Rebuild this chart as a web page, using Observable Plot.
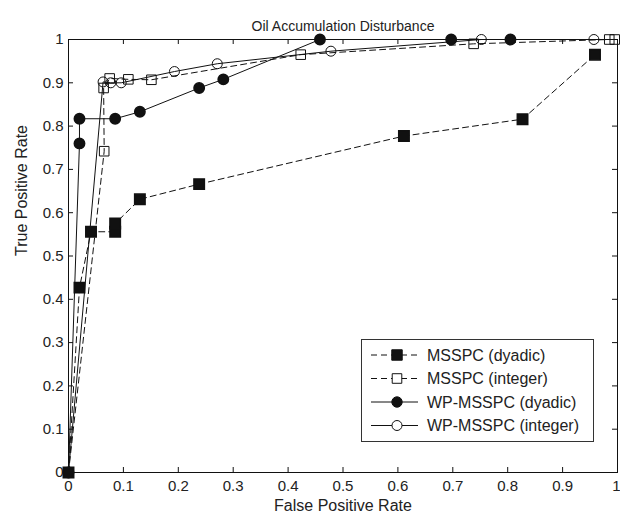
<!DOCTYPE html>
<html>
<head>
<meta charset="utf-8">
<script src="https://cdn.jsdelivr.net/npm/d3@7"></script>
<script src="https://cdn.jsdelivr.net/npm/@observablehq/plot@0.6"></script>
<style>
  html, body { margin: 0; padding: 0; background: white; }
  #chart { position: relative; width: 620px; height: 515px; font-family: "Liberation Sans", Arial, sans-serif; }
  #legend { position: absolute; left: 0; top: 0; pointer-events: none; }
</style>
</head>
<body>
<div id="chart"></div>
<script>
// ---- data ----
const title = "Oil Accumulation Disturbance";
const xLabel = "False Positive Rate";
const yLabel = "True Positive Rate";
const xTicks = [0, 0.1, 0.2, 0.3, 0.4, 0.5, 0.6, 0.7, 0.8, 0.9, 1];
const yTicks = [0, 0.1, 0.2, 0.3, 0.4, 0.5, 0.6, 0.7, 0.8, 0.9, 1];
const seriesNames = ["MSSPC (dyadic)", "MSSPC (integer)", "WP-MSSPC (dyadic)", "WP-MSSPC (integer)"];

const msspcDyadicX = [0, 0.02, 0.041, 0.085, 0.085, 0.13, 0.238, 0.611, 0.827, 0.959];
const msspcDyadicY = [0, 0.427, 0.556, 0.556, 0.575, 0.631, 0.666, 0.777, 0.816, 0.965];

const msspcIntegerX = [0, 0.065, 0.064, 0.075, 0.109, 0.151, 0.423, 0.738, 0.985, 0.995];
const msspcIntegerY = [0, 0.742, 0.888, 0.91, 0.908, 0.907, 0.965, 0.99, 1, 1];

const wpDyadicX = [0, 0.02, 0.02, 0.085, 0.13, 0.238, 0.282, 0.458, 0.697, 0.805];
const wpDyadicY = [0, 0.76, 0.817, 0.817, 0.833, 0.888, 0.908, 1, 1, 1];

const wpIntegerX = [0, 0.063, 0.077, 0.096, 0.193, 0.271, 0.478, 0.752, 0.957];
const wpIntegerY = [0, 0.902, 0.9, 0.9, 0.926, 0.944, 0.973, 1, 1];

// ---- build tables ----
const zip = (xs, ys) => xs.map((x, i) => ({x, y: ys[i]}));
const msspcDyadic = zip(msspcDyadicX, msspcDyadicY);
const msspcInteger = zip(msspcIntegerX, msspcIntegerY);
const wpDyadic = zip(wpDyadicX, wpDyadicY);
const wpInteger = zip(wpIntegerX, wpIntegerY);

const W = 620, H = 515;
const mL = 68, mR = 3, mT = 39, mB = 43;
const plotW = W - mL - mR, plotH = H - mT - mB;
const ink = "#111";
const dash = "6,4";
const tickLen = 5;
const fmt = d => String(+d.toFixed(1));
const xTicksInner = xTicks.slice(0, -1);
const xTickLast = xTicks.slice(-1);

const chart = Plot.plot({
  width: W, height: H,
  marginLeft: mL, marginRight: mR, marginTop: mT, marginBottom: mB,
  style: {fontFamily: '"Liberation Sans", Arial, sans-serif', color: "#222", background: "white"},
  x: {domain: [0, 1]},
  y: {domain: [0, 1]},
  marks: [
    Plot.axisX({ticks: xTicksInner, tickSize: 0, tickPadding: 8, fontSize: 15, tickFormat: fmt, label: null}),
    Plot.axisX({ticks: xTickLast, tickSize: 0, tickPadding: 8, fontSize: 15, tickFormat: fmt, label: null, textAnchor: "end", dx: 3}),
    Plot.axisY({ticks: yTicks, tickSize: 0, tickPadding: 5, fontSize: 15, tickFormat: fmt, label: null}),
    // inward tick marks on all four sides
    Plot.tickX(xTicks, {x: d => d, stroke: ink, insetTop: plotH - tickLen}),
    Plot.tickX(xTicks, {x: d => d, stroke: ink, insetBottom: plotH - tickLen}),
    Plot.tickY(yTicks, {y: d => d, stroke: ink, insetRight: plotW - tickLen}),
    Plot.tickY(yTicks, {y: d => d, stroke: ink, insetLeft: plotW - tickLen}),
    Plot.frame({stroke: ink, strokeWidth: 1}),
    // series
    Plot.line(wpInteger, {x: "x", y: "y", stroke: ink, strokeWidth: 1}),
    Plot.dot(wpInteger, {x: "x", y: "y", symbol: "circle", r: 5, fill: "none", stroke: ink, strokeWidth: 1}),
    Plot.line(wpDyadic, {x: "x", y: "y", stroke: ink, strokeWidth: 1}),
    Plot.dot(wpDyadic, {x: "x", y: "y", symbol: "circle", r: 5.2, fill: ink, stroke: ink}),
    Plot.line(msspcInteger, {x: "x", y: "y", stroke: ink, strokeWidth: 1, strokeDasharray: dash}),
    Plot.dot(msspcInteger, {x: "x", y: "y", symbol: "square", r: 5.4, fill: "none", stroke: ink, strokeWidth: 1}),
    Plot.line(msspcDyadic, {x: "x", y: "y", stroke: ink, strokeWidth: 1, strokeDasharray: dash}),
    Plot.dot(msspcDyadic, {x: "x", y: "y", symbol: "square", r: 5.9, fill: ink, stroke: ink}),
    // title and axis labels
    Plot.text([title], {text: d => d, frameAnchor: "top", dy: -18, fontSize: 14, fill: "#222"}),
    Plot.text([xLabel], {text: d => d, frameAnchor: "bottom", dy: 38, fontSize: 16, fill: "#222"}),
    Plot.text([yLabel], {text: d => d, frameAnchor: "left", dx: -47, rotate: -90, fontSize: 16, fill: "#222"})
  ]
});
document.getElementById("chart").appendChild(chart);

// ---- legend overlay inside the plot area ----
const lg = d3.select("#chart").append("svg")
  .attr("id", "legend").attr("width", W).attr("height", H);
const box = {x: 361, y: 339, w: 232, h: 102};
const g = lg.append("g").attr("transform", `translate(${box.x},${box.y})`);
g.append("rect").attr("x", 0.5).attr("y", 0.5).attr("width", box.w).attr("height", box.h)
  .attr("fill", "white").attr("stroke", "#333").attr("stroke-width", 1);
const styles = [
  {dash: dash, sym: d3.symbolSquare, r: 5.9, fill: ink},
  {dash: dash, sym: d3.symbolSquare, r: 5.4, fill: "white"},
  {dash: null, sym: d3.symbolCircle, r: 5.2, fill: ink},
  {dash: null, sym: d3.symbolCircle, r: 5, fill: "white"}
];
seriesNames.forEach((name, i) => {
  const cy = 16 + i * 23.5;
  const s = styles[i];
  const row = g.append("g").attr("transform", `translate(0,${cy})`);
  row.append("line").attr("x1", 10).attr("x2", 57).attr("y1", 0).attr("y2", 0)
    .attr("stroke", ink).attr("stroke-width", 1).attr("stroke-dasharray", s.dash);
  row.append("path").attr("transform", "translate(36,0)")
    .attr("d", d3.symbol(s.sym, Math.PI * s.r * s.r)())
    .attr("fill", s.fill).attr("stroke", ink).attr("stroke-width", 1);
  row.append("text").attr("x", 66).attr("y", 0).attr("dy", "0.35em")
    .attr("font-size", 16).attr("fill", "#222")
    .attr("font-family", '"Liberation Sans", Arial, sans-serif')
    .text(name);
});
</script>
</body>
</html>
